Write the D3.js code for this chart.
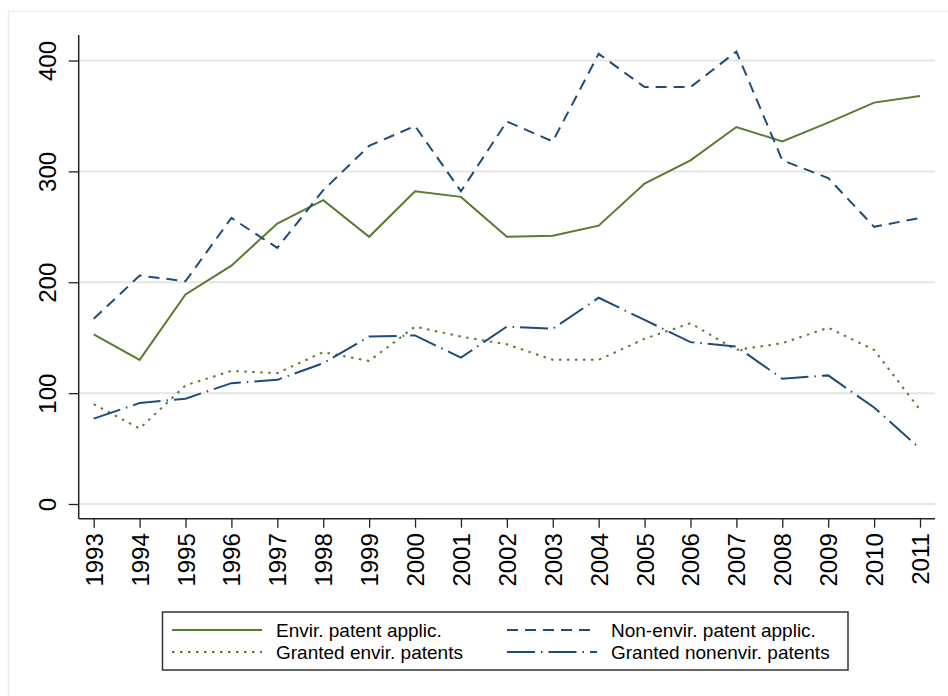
<!DOCTYPE html>
<html><head><meta charset="utf-8">
<script src="https://cdn.jsdelivr.net/npm/d3@7"></script>
<style>body{margin:0;background:#fff}svg{display:block}text{font-family:"Liberation Sans",Arial,sans-serif;fill:#000}</style>
</head><body><svg id="c" width="948" height="696"></svg>
<script>
const years = [1993,1994,1995,1996,1997,1998,1999,2000,2001,2002,2003,2004,2005,2006,2007,2008,2009,2010,2011];
const envirApplic    = [153,130,189,215,253,274,241,282,277,241,242,251,289,310,340,327,344,362,368];
const nonEnvirApplic = [167,206,201,258,231,283,323,341,282,345,327,406,376,376,408,310,294,250,258];
const grantedEnvir   = [90,68,107,120,118,137,129,160,151,144,130,130,149,163,139,145,159,139,85];
const grantedNonEnvir= [77,91,95,109,112,127,151,152,132,160,158,186,166,146,142,113,116,87,50];
const yTicks = [0,100,200,300,400];
const seriesNames = ["Envir. patent applic.","Non-envir. patent applic.","Granted envir. patents","Granted nonenvir. patents"];

const green = "#5a7b2f", navy = "#1d4c78";
const series = [
  {name: seriesNames[0], values: envirApplic, color: green, dash: null},
  {name: seriesNames[1], values: nonEnvirApplic, color: navy, dash: "11,7"},
  {name: seriesNames[2], values: grantedEnvir, color: green, dash: "2.5,5.5"},
  {name: seriesNames[3], values: grantedNonEnvir, color: navy, dash: "28,6,1.5,6"}
];

const svg = d3.select("#c");
// outer frame
svg.append("rect").attr("x",8.5).attr("y",11.5).attr("width",960).attr("height",700)
  .attr("fill","none").attr("stroke","#ececec").attr("stroke-width",1.5);

const plotL = 78.7, plotR = 935, plotT = 35, plotB = 518.7;
const x = d3.scaleLinear().domain([1993,2011]).range([93.7,920]);
const y = d3.scaleLinear().domain([0,400]).range([504,60.5]);

// gridlines
svg.append("g").selectAll("line").data(yTicks).join("line")
  .attr("x1",plotL).attr("x2",plotR).attr("y1",d=>y(d)).attr("y2",d=>y(d))
  .attr("stroke","#e6e6e6").attr("stroke-width",2);

// y axis
const yAxis = svg.append("g").attr("transform",`translate(${plotL},0)`)
  .call(d3.axisLeft(y).tickValues(yTicks).tickSize(10).tickSizeOuter(0));
yAxis.select(".domain").remove();
yAxis.selectAll(".tick line").attr("stroke","#222").attr("stroke-width",1.3);
yAxis.selectAll(".tick text").remove();
yAxis.selectAll(".tick").append("text")
  .attr("transform","translate(-23,0) rotate(-90)")
  .attr("text-anchor","middle").attr("font-size",24).attr("fill","#000")
  .text(d=>d);
svg.append("line").attr("x1",plotL).attr("x2",plotL).attr("y1",plotT).attr("y2",plotB)
  .attr("stroke","#222").attr("stroke-width",1.5);

// x axis
const xAxis = svg.append("g").attr("transform",`translate(0,${plotB})`)
  .call(d3.axisBottom(x).tickValues(years).tickSize(9).tickSizeOuter(0).tickFormat(d3.format("d")));
xAxis.select(".domain").remove();
xAxis.selectAll(".tick line").attr("stroke","#222").attr("stroke-width",1.3);
xAxis.selectAll(".tick text").remove();
xAxis.selectAll(".tick").append("text")
  .attr("transform","translate(8.5,14.5) rotate(-90)")
  .attr("text-anchor","end").attr("font-size",24).attr("fill","#000")
  .text(d=>d);
svg.append("line").attr("x1",plotL).attr("x2",plotR).attr("y1",plotB).attr("y2",plotB)
  .attr("stroke","#222").attr("stroke-width",1.5);

// lines
const line = d3.line().x((d,i)=>x(years[i])).y(d=>y(d));
svg.append("g").selectAll("path").data(series).join("path")
  .attr("d",d=>line(d.values)).attr("fill","none")
  .attr("stroke",d=>d.color).attr("stroke-width",2)
  .attr("stroke-dasharray",d=>d.dash);

// legend
const lg = svg.append("g");
lg.append("rect").attr("x",162.5).attr("y",612).attr("width",685.5).attr("height",58)
  .attr("fill","#fff").attr("stroke","#333").attr("stroke-width",1.5);
const pos = [[172,630],[507,630],[172,652],[507,652]];
series.forEach((s,i)=>{
  const [lx,ly] = pos[i];
  lg.append("line").attr("x1",lx).attr("x2",lx+90).attr("y1",ly).attr("y2",ly)
    .attr("stroke",s.color).attr("stroke-width",2).attr("stroke-dasharray",s.dash);
  lg.append("text").attr("x",lx+104).attr("y",ly+6.5).attr("font-size",19).text(s.name);
});
</script></body></html>
